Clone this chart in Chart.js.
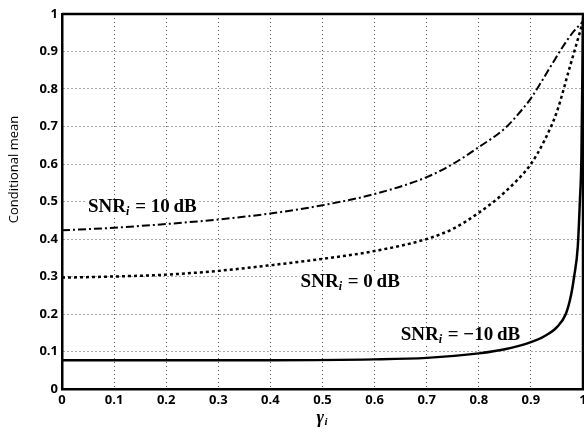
<!DOCTYPE html>
<html>
<head>
<meta charset="utf-8">
<script src="https://cdn.jsdelivr.net/npm/chart.js@4/dist/chart.umd.min.js"></script>
<style>
html,body{margin:0;padding:0;background:#fff;overflow:hidden;}
#wrap{width:600px;height:434px;}
</style>
</head>
<body>
<div id="wrap"><canvas id="c" width="600" height="434"></canvas></div>
<script>
/* data */
let gamma10=[0,0.1,0.2,0.3,0.4,0.5,0.6,0.7,0.75,0.8,0.85,0.88,0.9,0.94,0.96,0.98,1];
let snr10=[0.423,0.43,0.44,0.452,0.468,0.49,0.52,0.565,0.6,0.645,0.695,0.74,0.775,0.865,0.91,0.95,0.98];

let gamma0=[0,0.1,0.2,0.3,0.4,0.5,0.6,0.7,0.75,0.8,0.85,0.9,0.925,0.95,0.975,1];
let snr0=[0.297,0.3,0.305,0.315,0.33,0.347,0.368,0.4,0.427,0.47,0.525,0.6,0.66,0.74,0.86,0.98];

let gammaM10=[0,0.2,0.4,0.6,0.7,0.8,0.85,0.9,0.925,0.95,0.967,0.977,0.983,0.99,0.994,0.997,1];
let snrM10=[0.077,0.077,0.077,0.079,0.083,0.095,0.106,0.125,0.14,0.165,0.2,0.25,0.3,0.38,0.5,0.62,0.99];

// label anchors in data units: [x, y, value text]
let labels=[[0.05,0.485,"10\u2009dB"],[0.458,0.285,"0\u2009dB"],[0.65,0.144,"\u221210\u2009dB"]];

let yTitle="Conditional mean";

function pts(xs,ys){ return xs.map((x,i)=>({x:x,y:ys[i]})); }

/* labels under the curves */
let notes={
id:"notes",
beforeDatasetsDraw(ch){
let ctx=ch.ctx,xs=ch.scales.x,ys=ch.scales.y;
ctx.save();
ctx.textBaseline="middle";
labels.forEach(l=>{
let x=xs.getPixelForValue(l[0]),y=ys.getPixelForValue(l[1]);
ctx.font="bold 19px 'Liberation Serif'";
let w1=ctx.measureText("SNR").width;
ctx.font="italic bold 12px 'Liberation Serif'";
let w2=ctx.measureText("i").width;
ctx.font="bold 19px 'Liberation Serif'";
let rest=" = "+l[2];
let w3=ctx.measureText(rest).width;
ctx.fillStyle="#fff";
ctx.fillRect(x-1,y-8,w1+w2+w3+2,16);
ctx.fillStyle="#000";
ctx.fillText("SNR",x,y);
ctx.font="italic bold 12px 'Liberation Serif'";
ctx.fillText("i",x+w1,y+5);
ctx.font="bold 19px 'Liberation Serif'";
ctx.fillText(rest,x+w1+w2+1,y);
});
ctx.restore();
}
};

/* frame + axis titles */
let deco={
id:"deco",
afterDatasetsDraw(ch){
let ctx=ch.ctx,a=ch.chartArea;
ctx.save();
ctx.strokeStyle="#000";ctx.lineWidth=2.5;
ctx.beginPath();
ctx.moveTo(a.left,a.top);ctx.lineTo(a.right,a.top);ctx.lineTo(a.right,a.bottom);
ctx.stroke();

ctx.fillStyle="#000";
ctx.textBaseline="middle";
ctx.font="italic bold 18px 'Liberation Serif'";
let cx=(a.left+a.right)/2;
ctx.fillText("\u03b3",cx-6,a.bottom+29);
ctx.font="italic bold 11px 'Liberation Serif'";
ctx.fillText("i",cx+2,a.bottom+33);

ctx.translate(14,(a.top+a.bottom)/2-32);
ctx.rotate(-Math.PI/2);
ctx.textAlign="center";
ctx.font="13px 'Open Sans'";
ctx.fillText(yTitle,0,0);
ctx.restore();
}
};

let tickFont={family:"'Open Sans'",size:13,weight:"bold"};
let fmt=v=>String(+v.toFixed(1));

new Chart(document.getElementById("c"),{
type:"line",
data:{datasets:[
{data:pts(gamma10,snr10),borderColor:"#000",borderWidth:2,borderDash:[8,3,2,3],pointRadius:0,cubicInterpolationMode:"monotone",fill:false},
{data:pts(gamma0,snr0),borderColor:"#000",borderWidth:2.5,borderDash:[3,3],pointRadius:0,cubicInterpolationMode:"monotone",fill:false},
{data:pts(gammaM10,snrM10),borderColor:"#000",borderWidth:2.5,pointRadius:0,cubicInterpolationMode:"monotone",fill:false}
]},
options:{
responsive:false,animation:false,
layout:{autoPadding:false,padding:{top:14,right:17,left:0,bottom:0}},
plugins:{legend:{display:false},tooltip:{enabled:false}},
scales:{
x:{type:"linear",min:0,max:1,
ticks:{stepSize:0.1,color:"#000",font:tickFont,padding:3,maxRotation:0,callback:fmt},
grid:{color:"#555",lineWidth:1,drawTicks:false},
border:{display:true,color:"#000",width:2.5,dash:[1,3]},
afterFit(s){s.height=45;}
},
y:{min:0,max:1,
ticks:{stepSize:0.1,color:"#000",font:tickFont,padding:4,callback:fmt},
grid:{color:"#555",lineWidth:1,drawTicks:false},
border:{display:true,color:"#000",width:2.5,dash:[1,3]},
afterFit(s){s.width=62;}
}
}
},
plugins:[notes,deco]
});
</script>
</body>
</html>
